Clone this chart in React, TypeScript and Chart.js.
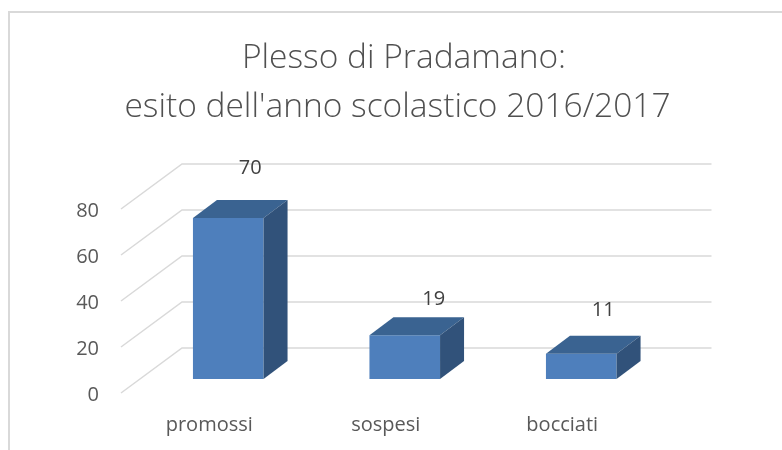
import React, { useEffect, useRef } from "react";
import { Chart, registerables } from "chart.js";

Chart.register(...registerables);

const categories = ["promossi", "sospesi", "bocciati"];
const values = [70, 19, 11];
const titleLines = ["Plesso di Pradamano:", "esito dell'anno scolastico 2016/2017"];

const FONT = "Open Sans";

// 3D projection of the chart: wall depth and the bars' place inside it
const WALL_DX = 61;
const WALL_DY = 45;
const BAR_DX = 19;
const BAR_DY = 14;
const DEPTH_DX = 24;
const DEPTH_DY = 18;
const labelNudges = [
  { dx: 22, dy: -50 },
  { dx: 29, dy: -36 },
  { dx: 22, dy: -43 },
];

const depthPlugin = {
  id: "depth3d",
  beforeDraw(chart: any) {
    const { ctx, width, height } = chart;
    ctx.save();
    ctx.fillStyle = "#ffffff";
    ctx.fillRect(0, 0, width, height);
    ctx.strokeStyle = "#d9d9d9";
    ctx.lineWidth = 2;
    ctx.beginPath();
    ctx.moveTo(9, height + 2);
    ctx.lineTo(9, 12);
    ctx.lineTo(width + 2, 12);
    ctx.stroke();
    ctx.fillStyle = "#505050";
    ctx.font = `300 33.5px "${FONT}"`;
    ctx.textAlign = "center";
    ctx.textBaseline = "middle";
    ctx.fillText(titleLines[0], 404, 58);
    ctx.fillText(titleLines[1], 397.5, 107);
    ctx.restore();
  },
  beforeDatasetsDraw(chart: any) {
    const { ctx, chartArea, scales } = chart;
    ctx.save();
    ctx.strokeStyle = "#d9d9d9";
    ctx.lineWidth = 1.5;
    scales.y.ticks.forEach((t: any) => {
      const y = scales.y.getPixelForValue(t.value);
      ctx.beginPath();
      ctx.moveTo(chartArea.left, y);
      ctx.lineTo(chartArea.left + WALL_DX, y - WALL_DY);
      ctx.lineTo(chartArea.right + WALL_DX, y - WALL_DY);
      ctx.stroke();
      ctx.fillStyle = "#595959";
      ctx.font = `20px "${FONT}"`;
      ctx.textAlign = "right";
      ctx.textBaseline = "middle";
      ctx.fillText(String(t.value), chartArea.left - 22, y + 2);
    });
    ctx.restore();
    ctx.save();
    ctx.translate(BAR_DX, -BAR_DY);
  },
  afterDatasetsDraw(chart: any) {
    const { ctx } = chart;
    ctx.restore();
    const meta = chart.getDatasetMeta(0);
    meta.data.forEach((bar: any, i: number) => {
      const half = bar.width / 2;
      const l = bar.x - half + BAR_DX;
      const r = bar.x + half + BAR_DX;
      const t = bar.y - BAR_DY;
      const b = bar.base - BAR_DY;
      ctx.save();
      ctx.fillStyle = "#3a6391";
      ctx.beginPath();
      ctx.moveTo(l, t);
      ctx.lineTo(l + DEPTH_DX, t - DEPTH_DY);
      ctx.lineTo(r + DEPTH_DX, t - DEPTH_DY);
      ctx.lineTo(r, t);
      ctx.closePath();
      ctx.fill();
      ctx.fillStyle = "#31527a";
      ctx.beginPath();
      ctx.moveTo(r, t);
      ctx.lineTo(r + DEPTH_DX, t - DEPTH_DY);
      ctx.lineTo(r + DEPTH_DX, b - DEPTH_DY);
      ctx.lineTo(r, b);
      ctx.closePath();
      ctx.fill();
      const n = labelNudges[i];
      ctx.fillStyle = "#404040";
      ctx.font = `20px "${FONT}"`;
      ctx.textAlign = "center";
      ctx.textBaseline = "middle";
      ctx.fillText(String(values[i]), bar.x + BAR_DX + n.dx, t + n.dy);
      ctx.restore();
    });
  },
};

export default function App() {
  const ref = useRef<HTMLCanvasElement>(null);
  useEffect(() => {
    const chart = new Chart(ref.current!, {
      type: "bar",
      data: {
        labels: categories,
        datasets: [
          {
            data: values,
            backgroundColor: "#4e7fbc",
            barPercentage: 0.4,
            categoryPercentage: 1,
            clip: false as any,
          },
        ],
      },
      options: {
        responsive: false,
        animation: false,
        layout: { padding: { top: 209, left: 0, right: 131.5, bottom: 0 } },
        plugins: {
          legend: { display: false },
          tooltip: { enabled: false },
        },
        scales: {
          x: {
            afterFit: (s: any) => {
              s.height = 57;
            },
            grid: { display: false },
            border: { display: false },
            ticks: { color: "#595959", font: { family: FONT, size: 20 }, padding: 12, maxRotation: 0 },
          },
          y: {
            min: 0,
            max: 80,
            afterFit: (s: any) => {
              s.width = 121;
            },
            grid: { display: false },
            border: { display: false },
            ticks: { stepSize: 20, color: "rgba(0,0,0,0)", font: { family: FONT, size: 20 }, padding: 14 },
          },
        },
      },
      plugins: [depthPlugin],
    } as any);
    return () => chart.destroy();
  }, []);
  return (
    <canvas
      ref={ref}
      width={782}
      height={450}
      style={{ position: "fixed", left: 0, top: 0, width: 782, height: 450 }}
    />
  );
}
